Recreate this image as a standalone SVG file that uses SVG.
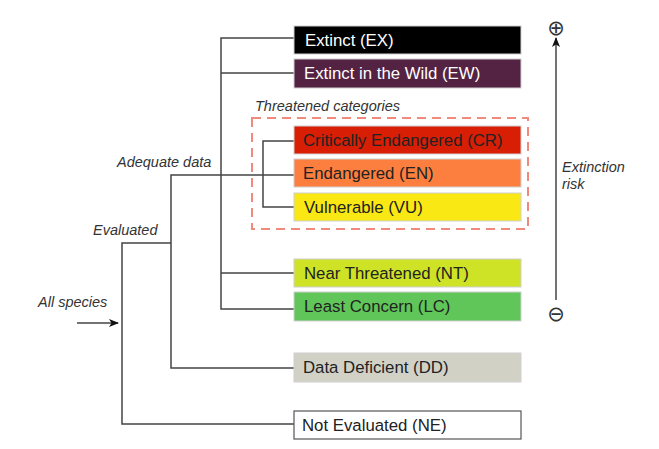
<svg xmlns="http://www.w3.org/2000/svg" width="659" height="449" viewBox="0 0 659 449">
<defs>
<style>
.box{stroke:#d0d0d0;stroke-width:1}
.lbl{font-family:"Liberation Sans",Arial,sans-serif;font-size:16.8px;fill:#222}
.w{fill:#fff}
.it{font-family:"Liberation Sans",Arial,sans-serif;font-size:14.5px;font-style:italic;fill:#333}
.ln{fill:none;stroke:#444;stroke-width:1.5}
.sym{font-family:"DejaVu Sans",sans-serif;font-size:21px;fill:#333}
</style>
<marker id="ah" markerWidth="10" markerHeight="10" refX="9" refY="5" orient="auto" markerUnits="userSpaceOnUse">
<path d="M0,1 L10,5 L0,9 L2.5,5 Z" fill="#111"/>
</marker>
</defs>
<rect width="659" height="449" fill="#fff"/>
<g id="connectors">
<path class="ln" d="M294,38 H221 V309 H294 M221,73 H294 M221,273 H294"/>
<path class="ln" d="M294,141 H263 V207 H294"/>
<path class="ln" d="M294,175 H171 V368 H294"/>
<path class="ln" d="M171,243 H122 V424 H294"/>
<path class="ln" d="M77,323 H118" marker-end="url(#ah)"/>
<path class="ln" d="M556,300 V38" marker-end="url(#ah)"/>
</g>
<g id="threatened">
<rect x="252" y="118" width="276" height="111" fill="none" stroke="#f08a7e" stroke-width="2" stroke-dasharray="9,6"/>
<text class="it" x="255" y="111">Threatened categories</text>
</g>
<g id="EX"><rect class="box" x="294" y="26" width="227" height="28" fill="#000"/><text class="lbl w" x="305" y="46">Extinct (EX)</text></g>
<g id="EW"><rect class="box" x="294" y="59" width="227" height="29" fill="#542344"/><text class="lbl w" x="304" y="79">Extinct in the Wild (EW)</text></g>
<g id="CR"><rect class="box" x="294" y="126" width="227" height="28" fill="#d81e05"/><text class="lbl" x="303" y="146">Critically Endangered (CR)</text></g>
<g id="EN"><rect class="box" x="294" y="159" width="227" height="28" fill="#fc7f3f"/><text class="lbl" x="303" y="179">Endangered (EN)</text></g>
<g id="VU"><rect class="box" x="294" y="193" width="227" height="28" fill="#f9e814"/><text class="lbl" x="304" y="213">Vulnerable (VU)</text></g>
<g id="NT"><rect class="box" x="294" y="259" width="227" height="28" fill="#cee226"/><text class="lbl" x="304" y="279">Near Threatened (NT)</text></g>
<g id="LC"><rect class="box" x="294" y="292" width="227" height="29" fill="#60c659"/><text class="lbl" x="304" y="312">Least Concern (LC)</text></g>
<g id="DD"><rect class="box" x="294" y="353" width="227" height="29" fill="#d1d1c6"/><text class="lbl" x="303" y="373">Data Deficient (DD)</text></g>
<g id="NE"><rect x="294" y="411" width="227" height="28" fill="#fff" stroke="#555" stroke-width="1.2"/><text class="lbl" x="302" y="431">Not Evaluated (NE)</text></g>
<g id="labels">
<text class="it" x="117" y="167">Adequate data</text>
<text class="it" x="93" y="235">Evaluated</text>
<text class="it" x="38" y="307">All species</text>
<text class="it" x="562" y="172">Extinction</text>
<text class="it" x="562" y="189">risk</text>
</g>
<g id="risk-ends">
<text class="sym" x="556" y="35" text-anchor="middle">⊕</text>
<text class="sym" x="556" y="321" text-anchor="middle">⊖</text>
</g>
</svg>
